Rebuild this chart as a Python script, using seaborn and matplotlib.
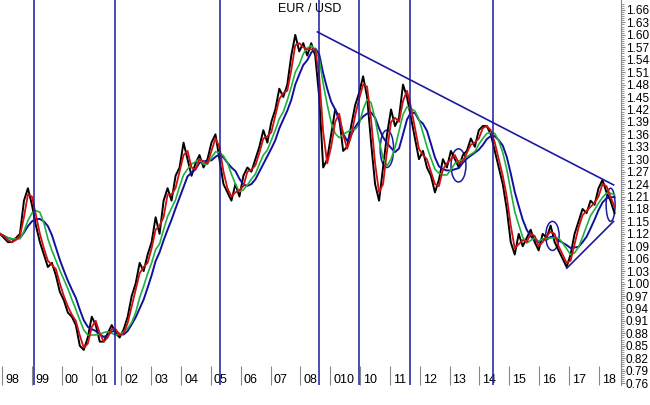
import numpy as np
import pandas as pd
import matplotlib
matplotlib.use("Agg")
import matplotlib.pyplot as plt
import matplotlib.transforms as mtrans
from matplotlib.patches import Ellipse
import seaborn as sns

# EUR/USD price, evenly spaced in time
price = [1.12, 1.11, 1.10, 1.10, 1.11, 1.12, 1.20, 1.23, 1.19, 1.14, 1.10, 1.07, 1.04, 1.05, 1.02, 0.98,
         0.96, 0.93, 0.92, 0.90, 0.85, 0.84, 0.87, 0.92, 0.90, 0.86, 0.86, 0.88, 0.90, 0.88, 0.87, 0.89,
         0.92, 0.97, 1.00, 1.05, 1.03, 1.07, 1.10, 1.16, 1.12, 1.20, 1.23, 1.20, 1.26, 1.28, 1.34, 1.30,
         1.26, 1.29, 1.31, 1.28, 1.30, 1.34, 1.36, 1.30, 1.24, 1.22, 1.20, 1.24, 1.21, 1.26, 1.28, 1.27,
         1.30, 1.33, 1.37, 1.34, 1.39, 1.42, 1.47, 1.45, 1.48, 1.55, 1.60, 1.56, 1.58, 1.55, 1.58, 1.55,
         1.45, 1.28, 1.30, 1.36, 1.42, 1.40, 1.32, 1.33, 1.38, 1.43, 1.46, 1.50, 1.45, 1.34, 1.24, 1.20,
         1.28, 1.36, 1.42, 1.38, 1.40, 1.48, 1.45, 1.40, 1.35, 1.30, 1.32, 1.28, 1.26, 1.22, 1.25, 1.30,
         1.28, 1.32, 1.30, 1.28, 1.31, 1.32, 1.35, 1.33, 1.37, 1.38, 1.38, 1.36, 1.32, 1.28, 1.24, 1.18,
         1.10, 1.07, 1.12, 1.09, 1.11, 1.13, 1.10, 1.08, 1.12, 1.11, 1.14, 1.10, 1.08, 1.06, 1.04, 1.07,
         1.12, 1.15, 1.18, 1.17, 1.20, 1.19, 1.23, 1.25, 1.22, 1.20, 1.17]
start_pos, end_pos = -0.07, 20.53

year_labels = ["98", "99", "00", "01", "02", "03", "04", "05", "06", "07", "08",
               "010", "10", "11", "12", "13", "14", "15", "16", "17", "18"]
vlines_pos = [1.07, 3.78, 7.29, 10.64, 11.97, 13.68, 16.45]
trend_down = ([10.57, 20.50], [1.607, 1.238])
trend_up = ([18.93, 20.50], [1.037, 1.150])
circles = [(12.90, 1.325, 0.45, 0.09), (15.30, 1.285, 0.5, 0.08),
           (18.45, 1.115, 0.45, 0.07), (20.40, 1.19, 0.3, 0.08)]

df = pd.DataFrame({"t": np.linspace(start_pos, end_pos, len(price)), "price": price})
df["ma_fast"] = df["price"].rolling(2, min_periods=1).mean()
df["ma_mid"] = df["price"].rolling(5, min_periods=1).mean()
df["ma_slow"] = df["price"].rolling(7, min_periods=1).mean()

fig = plt.figure(figsize=(6.5, 4.05), dpi=100)
ax = fig.add_axes([0.0, 0.049, 0.955, 0.951])

sns.lineplot(data=df, x="t", y="price", color="black", lw=1.4, ax=ax)
sns.lineplot(data=df, x="t", y="ma_slow", color="#1010a0", lw=1.4, ax=ax)
sns.lineplot(data=df, x="t", y="ma_mid", color="#20b040", lw=1.2, ax=ax)
sns.lineplot(data=df, x="t", y="ma_fast", color="#d01010", lw=1.3, ax=ax)

for v in vlines_pos:
    ax.axvline(v, color="#1a1aa0", lw=1.1)
ax.plot(*trend_down, color="#1a1aa0", lw=1.2)
ax.plot(*trend_up, color="#1a1aa0", lw=1.2)
for cx, cy, w, h in circles:
    ax.add_patch(Ellipse((cx, cy), w, h, fill=False, edgecolor="#1a1aa0", lw=1.1))

ax.set_xlim(-0.07, 20.74)
ax.set_ylim(0.755, 1.684)
ax.set_xlabel("")
ax.set_ylabel("")
for s in ["left", "top", "bottom"]:
    ax.spines[s].set_visible(False)
ax.spines["right"].set_color("#888888")

ax.yaxis.tick_right()
yt = np.arange(0.76, 1.67, 0.03)
ax.set_yticks(yt)
ax.set_yticklabels([f"{v:.2f}" for v in yt], fontsize=8.5, family="Liberation Sans")
ax.set_yticks(np.arange(0.76, 1.68, 0.005), minor=True)
ax.tick_params(axis="y", which="major", length=3, pad=0.5, color="#888888")
ax.tick_params(axis="y", which="minor", length=2, color="#888888")

ax.set_xticks(range(len(year_labels)))
ax.set_xticklabels(year_labels, fontsize=9, family="Liberation Sans", ha="left")
ax.tick_params(axis="x", length=14, direction="in", pad=-8, color="#888888")
off = mtrans.ScaledTranslation(3 / 100, 0, fig.dpi_scale_trans)
for lbl in ax.get_xticklabels():
    lbl.set_transform(lbl.get_transform() + off)

ax.text(10.3, 1.655, "EUR / USD", fontsize=9, family="Liberation Sans", ha="center")

fig.savefig("out.png", dpi=100)
